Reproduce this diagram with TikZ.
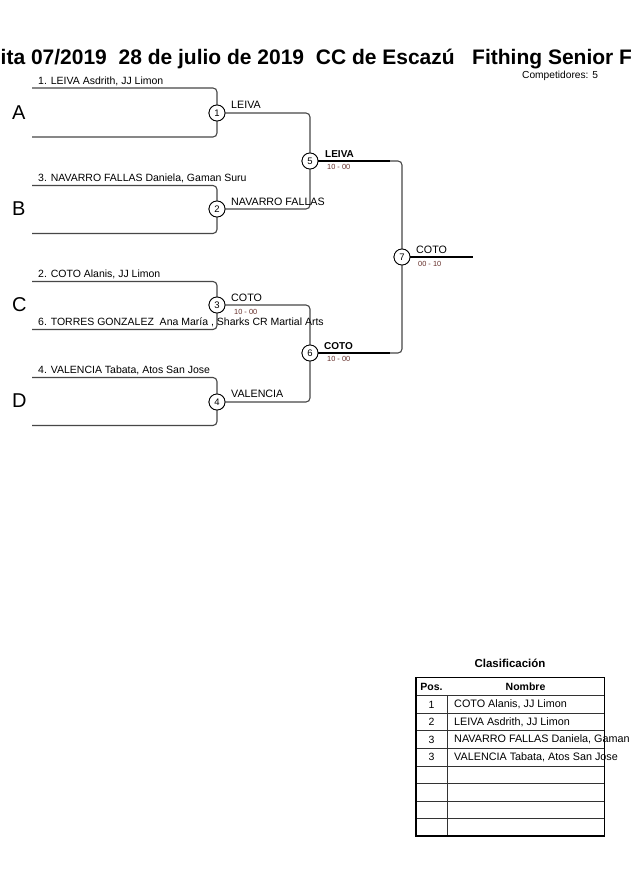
\documentclass[tikz,border=0pt]{standalone}
\usepackage{fontspec}
\setmainfont{Liberation Sans}
\begin{document}
\begin{tikzpicture}[x=1pt,y=-1pt,
  br/.style={draw=black!72,line width=1.1pt,rounded corners=4pt},
  mc/.style={circle,draw=black,line width=0.8pt,fill=white,inner sep=0pt,minimum size=16pt,font=\fontsize{9.5}{10}\selectfont},
  nm/.style={anchor=base west,inner sep=0pt,font=\fontsize{10.5}{12}\selectfont},
  wl/.style={anchor=base west,inner sep=0pt,font=\fontsize{10.7}{12}\selectfont},
  wb/.style={anchor=base west,inner sep=0pt,font=\bfseries\fontsize{10}{12}\selectfont},
  sc/.style={anchor=base west,inner sep=0pt,text={rgb,255:red,100;green,45;blue,40},font=\fontsize{7.4}{8}\selectfont},
  grp/.style={anchor=west,inner sep=0pt,font=\fontsize{20}{22}\selectfont},
  tb/.style={anchor=west,inner sep=0pt,font=\fontsize{10.8}{12}\selectfont},
  tp/.style={inner sep=0pt,font=\fontsize{10.5}{12}\selectfont}]
\useasboundingbox (0,0) rectangle (630,891);
\fill[white] (0,0) rectangle (630,891);
% title
\node[anchor=base west,inner sep=0pt,font=\bfseries\fontsize{21}{24}\selectfont] (title) at (0.5,64) {ita 07/2019\ \ 28 de julio de 2019\ \ CC de Escazú\ \ \ Fithing Senior F};
\node[anchor=base west,inner sep=0pt,font=\fontsize{10.2}{11}\selectfont] (comp) at (522,78.5) {Competidores: 5};
% match circles
\node[mc] (m1) at (217,113) {1};
\node[mc] (m2) at (217,209) {2};
\node[mc] (m3) at (217,305) {3};
\node[mc] (m4) at (217,402) {4};
\node[mc] (m5) at (310,161) {5};
\node[mc] (m6) at (310,353) {6};
\node[mc] (m7) at (402,257) {7};
% entrant line ends
\coordinate (e1) at (32,88);
\coordinate (e2) at (32,137);
\coordinate (e3) at (32,185.5);
\coordinate (e4) at (32,233.5);
\coordinate (e5) at (32,281.5);
\coordinate (e6) at (32,329.5);
\coordinate (e7) at (32,377.5);
\coordinate (e8) at (32,425.5);
\coordinate (fin) at (473,257);
% bracket lines
\draw[br] (e1) -| (m1.north);
\draw[br] (e2) -| (m1.south);
\draw[br] (e3) -| (m2.north);
\draw[br] (e4) -| (m2.south);
\draw[br] (e5) -| (m3.north);
\draw[br] (e6) -| (m3.south);
\draw[br] (e7) -| (m4.north);
\draw[br] (e8) -| (m4.south);
\draw[br] (m1.east) -| (m5.north);
\draw[br] (m2.east) -| (m5.south);
\draw[br] (m3.east) -| (m6.north);
\draw[br] (m4.east) -| (m6.south);
\draw[br] (m5.east) -| (m7.north);
\draw[br] (m6.east) -| (m7.south);
\draw[draw=black,line width=1.1pt] (m5.east) -- ++(72,0);
\draw[draw=black,line width=1.1pt] (m6.east) -- ++(72,0);
\draw[draw=black,line width=1.1pt] (m7.east) -- (fin);
% redraw circles on top
\foreach \n/\t in {m1/1,m2/2,m3/3,m4/4,m5/5,m6/6,m7/7}{\node[mc] at (\n) {\t};}
% group letters
\node[grp] (gA) at (12,113) {A};
\node[grp] (gB) at (12,209) {B};
\node[grp] (gC) at (12,305) {C};
\node[grp] (gD) at (12,401) {D};
% entrant names
\node[nm] (n1) at (38,84.5) {1. LEIVA Asdrith, JJ Limon};
\node[nm] (n3) at (38,181.5) {3. NAVARRO FALLAS Daniela, Gaman Suru};
\node[nm] (n2) at (38,277.5) {2. COTO Alanis, JJ Limon};
\node[nm] (n6) at (38,325.5) {6. TORRES GONZALEZ\ \ Ana María , Sharks CR Martial Arts};
\node[nm] (n4) at (38,373.5) {4. VALENCIA Tabata, Atos San Jose};
% winner labels
\node[wl] (w1) at (231,108.5) {LEIVA};
\node[wl] (w2) at (231,205) {NAVARRO FALLAS};
\node[wl] (w3) at (231,301) {COTO};
\node[sc] (s3) at (234,314.5) {10 - 00};
\node[wl] (w4) at (231,397.5) {VALENCIA};
\node[wb] (w5) at (325,157) {LEIVA};
\node[sc] (s5) at (327,169.5) {10 - 00};
\node[wb] (w6) at (324,349) {COTO};
\node[sc] (s6) at (327,361.5) {10 - 00};
\node[wl] (w7) at (416,253) {COTO};
\node[sc] (s7) at (418,266) {00 - 10};
% classification table
\node[inner sep=0pt,font=\bfseries\fontsize{11.5}{13}\selectfont] (ctitle) at (510,663) {Clasificación};
\foreach \i in {0,...,7}{\draw[black!80,line width=0.8pt] (416,695.7+17.55*\i) -- (604,695.7+17.55*\i);}
\draw[black!80,line width=0.8pt] (447,695.7) -- (447,836);
\node[inner sep=0pt,font=\bfseries\fontsize{10.5}{12}\selectfont] (hpos) at (431.5,686.5) {Pos.};
\node[inner sep=0pt,font=\bfseries\fontsize{10.5}{12}\selectfont] (hnom) at (525.5,686.5) {Nombre};
\node[tp] (p1) at (431.5,704.5) {1};
\node[tp] (p2) at (431.5,722) {2};
\node[tp] (p3) at (431.5,739.6) {3};
\node[tp] (p4) at (431.5,757.1) {3};
\node[tb] (r1) at (454,704.5) {COTO Alanis, JJ Limon};
\node[tb] (r2) at (454,722) {LEIVA Asdrith, JJ Limon};
\node[tb] (r3) at (454,739.6) {NAVARRO FALLAS Daniela, Gaman};
\node[tb] (r4) at (454,757.1) {VALENCIA Tabata, Atos San Jose};
\draw[black,line width=1.6pt] (416,677.3) rectangle (604.3,836);
\end{tikzpicture}
\end{document}
